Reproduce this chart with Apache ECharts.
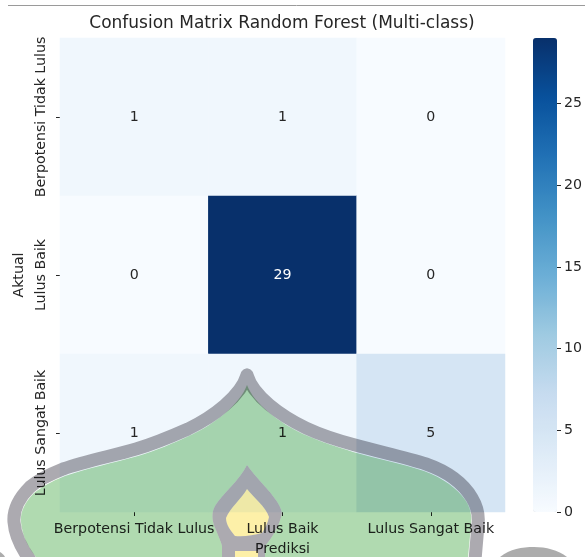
<!DOCTYPE html>
<html>
<head>
<meta charset="utf-8">
<title>Confusion Matrix</title>
<script src="https://cdn.jsdelivr.net/npm/echarts@6/dist/echarts.min.js"></script>
<style>
html, body { margin: 0; padding: 0; background: #fff; }
#main { width: 585px; height: 557px; }
</style>
</head>
<body>
<div id="main"></div>
<script>
var categories = ['Berpotensi Tidak Lulus', 'Lulus Baik', 'Lulus Sangat Baik'];
var row0 = [1, 1, 0];
var row1 = [0, 29, 0];
var row2 = [1, 1, 5];
var matrix = [row0, row1, row2];
var barTicks = [0, 5, 10, 15, 20, 25];
var blues = ['#f7fbff', '#deebf7', '#c6dbef', '#9ecae1', '#6baed6', '#4292c6', '#2171b5', '#08519c', '#08306b'];
var fontName = '"DejaVu Sans"';

// heatmap cells, rows are read from the top down
var cells = [];
matrix.forEach(function (row, y) {
	row.forEach(function (v, x) {
		cells.push({
			value: [x, y, v],
			label: { color: v > 14 ? '#ffffff' : '#262626' }
		});
	});
});

// logo stamped over the screenshot
var domeLine = 'M247 375C241 396 213 417 188 429C170 437 153 444 136 449C112 456 86 461 63 469C48 475 38 480 30 487C19 498 13 510 14 522C15 536 22 549 30 560M247 375C253 396 281 416 306 428C323 436 340 441 355 445C380 452 405 457 426 464C446 471 463 483 472 498C478 508 479 517 478 525C477 537 476 548 475 560';
var neckShape = 'M247 465C240 480 222 494 215 506C211 513 212 522 216 530C218 536 221 541 222 546L222 557L265 557L265 546C272 538 280 525 282 513C280 499 258 481 247 465Z';
var neckHole = 'M247 465C258 481 280 499 282 513C280 525 272 538 265 546L265 557L222 557L222 546C221 541 218 536 216 530C212 522 211 513 215 506C222 494 240 480 247 465Z';
var domeFill = 'M247 385C240 404 215 424 191 435C174 443 155 451 138 456C113 463 88 468 65 476C50 482 42 487 34 493C25 502 20 512 21 522C22 535 28 547 36 557L468 557C469 547 470 536 471 525C472 517 471 509 466 501C457 488 443 478 424 471C403 464 378 459 353 452C338 447 321 442 303 434C280 423 254 404 247 385Z' + neckHole;
var flame = 'M247 489C242 498 230 508 226 518C226 525 231 531 235 536C244 537 254 535 262 533C265 528 268 523 269 517C266 507 253 497 247 489Z';
var flameHole = 'M247 489C253 497 266 507 269 517C268 523 265 528 262 533C254 535 244 537 235 536C231 531 226 525 226 518C230 508 242 498 247 489Z';
var flameLow = 'M235 551L258 551L258 557L235 557Z';
var sideDome = 'M500 557C510 549 522 547 534 547C546 547 558 550 567 557Z';
var cornerArc = 'M0 552C2 553 4 555 5 557L0 557Z';

var stampCount = 0;
function stamp(path, style) {
	var name = 'stamp' + (stampCount++);
	echarts.graphic.registerShape(name, echarts.graphic.extendPath(path, {}));
	return {
		type: name,
		silent: true,
		z: 100,
		style: style
	};
}

var myChart = echarts.init(document.getElementById('main'));
var option = {
	animation: false,
	backgroundColor: '#ffffff',
	textStyle: { fontFamily: fontName },
	title: {
		text: 'Confusion Matrix Random Forest (Multi-class)',
		left: 282,
		top: 15,
		textAlign: 'center',
		padding: 0,
		textStyle: { fontFamily: fontName, fontSize: 17, fontWeight: 'normal', color: '#262626' }
	},
	grid: [
		{ left: 60, top: 38, width: 445, height: 474, outerBoundsMode: 'none' },
		{ left: 533, top: 38, width: 24, height: 474, outerBoundsMode: 'none' }
	],
	xAxis: [
		{
			type: 'category',
			data: categories,
			gridIndex: 0,
			name: 'Prediksi',
			nameLocation: 'middle',
			nameGap: 30,
			nameTextStyle: { fontSize: 14.2, color: '#262626' },
			axisLine: { show: false },
			axisTick: { show: true, alignWithLabel: true, length: 4, lineStyle: { color: '#262626' } },
			axisLabel: { fontSize: 14.2, color: '#262626', margin: 10, interval: 0, hideOverlap: false },
			splitArea: { show: false },
			splitLine: { show: false }
		},
		{ type: 'value', gridIndex: 1, show: false, min: 0, max: 1 }
	],
	yAxis: [
		{
			type: 'category',
			data: categories,
			gridIndex: 0,
			inverse: true,
			name: 'Aktual',
			nameLocation: 'middle',
			nameGap: 33,
			nameRotate: 90,
			nameTextStyle: { fontSize: 14.2, color: '#262626' },
			axisLine: { show: false },
			axisTick: { show: true, alignWithLabel: true, length: 4, lineStyle: { color: '#262626' } },
			axisLabel: { fontSize: 14.2, color: '#262626', rotate: 90, margin: 12, interval: 0, align: 'center', verticalAlign: 'bottom', hideOverlap: false },
			splitArea: { show: false },
			splitLine: { show: false }
		},
		{
			type: 'value',
			gridIndex: 1,
			position: 'right',
			min: 0,
			max: 29,
			interval: 5,
			axisLine: { show: false, onZero: false },
			axisTick: { show: true, length: 4, customValues: barTicks, lineStyle: { color: '#262626' } },
			axisLabel: { fontSize: 14.2, color: '#262626', margin: 7, customValues: barTicks },
			splitLine: { show: false }
		}
	],
	visualMap: {
		type: 'continuous',
		min: 0,
		max: 29,
		seriesIndex: 0,
		left: 533,
		top: 38,
		padding: 0,
		itemWidth: 24,
		itemHeight: 474,
		borderRadius: 0,
		calculable: false,
		hoverLink: false,
		text: null,
		showLabel: false,
		inRange: { color: blues }
	},
	series: [{
		type: 'heatmap',
		xAxisIndex: 0,
		yAxisIndex: 0,
		data: cells,
		label: { show: true, fontSize: 14.2, formatter: function (p) { return p.value[2]; } },
		itemStyle: { borderWidth: 0 },
		emphasis: { disabled: true }
	}],
	graphic: { elements: [
		{ type: 'line', silent: true, shape: { x1: 8, y1: 5.5, x2: 585, y2: 5.5 }, style: { stroke: '#9a9a9a', lineWidth: 1 } },
		stamp(domeFill, { fill: 'rgb(176,218,176)', blend: 'multiply' }),
		stamp(domeLine, { fill: null, stroke: 'rgb(172,170,176)', lineWidth: 13, lineJoin: 'round', lineCap: 'round', blend: 'multiply' }),
		stamp(neckShape + flameHole + flameLow, { fill: 'rgb(172,170,176)', blend: 'multiply' }),
		stamp(flame, { fill: '#fdf0a8', blend: 'multiply' }),
		stamp(flameLow, { fill: '#fdf0a8', blend: 'multiply' }),
		stamp(sideDome, { fill: 'rgb(172,172,172)', blend: 'multiply' }),
		stamp(cornerArc, { fill: 'rgb(172,172,172)', blend: 'multiply' })
	] }
};
myChart.setOption(option);
</script>
</body>
</html>
